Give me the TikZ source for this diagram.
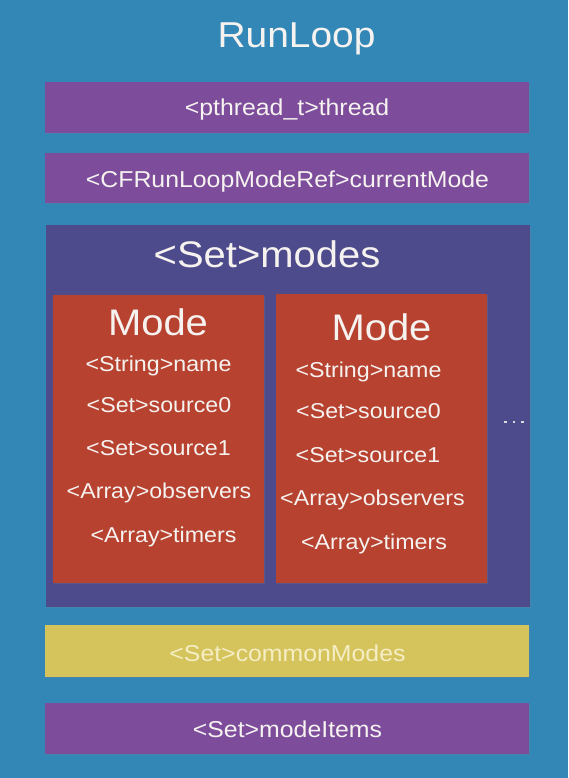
\documentclass[tikz,border=0pt]{standalone}
\usepackage{fontspec}
\setmainfont{Liberation Sans}[FakeStretch=1.08]
\usetikzlibrary{shadows}
\definecolor{bgblue}{HTML}{3387B7}
\definecolor{boxpurple}{HTML}{7D4D9B}
\definecolor{boxindigo}{HTML}{4D4B8B}
\definecolor{boxred}{HTML}{B6422F}
\definecolor{boxyellow}{HTML}{D5C35C}
\definecolor{txtwhite}{HTML}{F6F2F0}
\definecolor{txtpale}{HTML}{F5EEC4}
\begin{document}
\begin{tikzpicture}[x=1pt,y=-1pt,
  panel/.style={rectangle, inner sep=0pt, draw=none,
    drop shadow={opacity=0.25, shadow xshift=1.2pt, shadow yshift=-1.2pt}},
  lbl/.style={anchor=base, inner sep=0pt, text=txtwhite},
  bigfont/.style={font=\fontsize{37}{40}\selectfont},
  midfont/.style={font=\fontsize{23}{26}\selectfont},
  smallfont/.style={font=\fontsize{21.5}{24}\selectfont},
  dotmark/.style={rectangle, inner sep=0pt, minimum size=2.4pt, fill=txtwhite!85!boxindigo}
]
\fill[bgblue] (0,0) rectangle (568,778);
\useasboundingbox (0,0) rectangle (568,778);

% title
\node[lbl, font=\fontsize{36}{40}\selectfont] (title) at (296.5,48) {RunLoop};

% thread
\node[panel, fill=boxpurple, minimum width=484pt, minimum height=51pt] (threadbox) at (287,107.5) {};
\node[lbl, midfont] (thread) at (287,116) {<pthread\_t>thread};

% current mode
\node[panel, fill=boxpurple, minimum width=484pt, minimum height=50pt] (curbox) at (287,178) {};
\node[lbl, midfont] (cur) at (287.5,187) {<CFRunLoopModeRef>currentMode};

% modes
\node[panel, fill=boxindigo, minimum width=484pt, minimum height=382pt] (modesbox) at (288,416) {};
\node[lbl, bigfont] (modes) at (267,267) {<Set>modes};

% mode 1
\node[panel, fill=boxred, minimum width=211pt, minimum height=288pt] (mode1) at (158.5,439) {};
\node[lbl, bigfont] (m1title) at (158,335) {Mode};
\node[lbl, smallfont] (m1a) at (158.5,371) {<String>name};
\node[lbl, smallfont] (m1b) at (159,412) {<Set>source0};
\node[lbl, smallfont] (m1c) at (158.5,455) {<Set>source1};
\node[lbl, smallfont] (m1d) at (159,498) {<Array>observers};
\node[lbl, smallfont] (m1e) at (163.5,542) {<Array>timers};

% mode 2
\node[panel, fill=boxred, minimum width=211pt, minimum height=289pt] (mode2) at (381.5,438.5) {};
\node[lbl, bigfont] (m2title) at (381.5,340) {Mode};
\node[lbl, smallfont] (m2a) at (368.5,377) {<String>name};
\node[lbl, smallfont] (m2b) at (368.5,418) {<Set>source0};
\node[lbl, smallfont] (m2c) at (368,462) {<Set>source1};
\node[lbl, smallfont] (m2d) at (372.5,505) {<Array>observers};
\node[lbl, smallfont] (m2e) at (374,549) {<Array>timers};

% ellipsis
\node[dotmark] (d1) at (505.5,422) {};
\node[dotmark] (d2) at (514,422) {};
\node[dotmark] (d3) at (522.5,422) {};

% common modes
\node[panel, fill=boxyellow, minimum width=484pt, minimum height=52pt] (commonbox) at (287,651) {};
\node[lbl, midfont, text=txtpale] (common) at (287.5,661) {<Set>commonModes};

% mode items
\node[panel, fill=boxpurple, minimum width=484pt, minimum height=51pt] (itemsbox) at (287,728.5) {};
\node[lbl, midfont] (items) at (287.5,737) {<Set>modeItems};
\end{tikzpicture}
\end{document}
